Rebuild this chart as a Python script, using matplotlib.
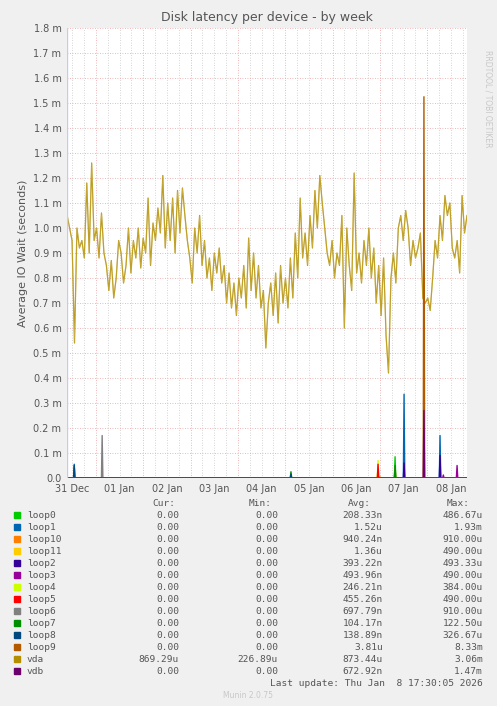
import numpy as np
import matplotlib
matplotlib.use("Agg")
import matplotlib.pyplot as plt

# ---- data (time in days since 31 Dec 00:00, values in seconds) ----
vda_vals_ms = [1.05,1.0,0.95,0.54,1.0,0.92,0.95,0.88,1.18,0.9,1.26,0.95,1.0,0.88,1.06,0.9,0.85,0.75,0.87,0.72,0.8,0.95,0.9,0.78,0.85,1.0,0.82,0.95,0.88,1.0,0.84,0.96,0.9,1.12,0.85,1.02,0.95,1.08,0.98,1.21,0.92,1.1,0.95,1.12,0.9,1.15,0.98,1.16,1.05,0.95,0.88,0.78,1.0,0.9,1.05,0.85,0.95,0.8,0.88,0.75,0.9,0.82,0.92,0.78,0.85,0.7,0.82,0.68,0.78,0.65,0.8,0.72,0.85,0.68,0.96,0.75,0.9,0.72,0.85,0.68,0.75,0.52,0.7,0.78,0.65,0.82,0.62,0.85,0.7,0.8,0.68,0.88,0.72,0.98,0.8,1.12,0.88,0.98,0.85,1.05,0.92,1.15,1.0,1.21,1.1,1.0,0.9,0.85,0.95,0.8,0.9,0.85,1.05,0.6,1.0,0.85,0.75,1.22,0.82,0.9,0.78,0.95,0.85,1.0,0.8,0.92,0.7,0.85,0.65,0.88,0.57,0.42,0.8,0.9,0.78,1.0,1.05,0.95,1.07,1.0,0.85,0.95,0.88,0.92,0.98,0.72,0.7,0.72,0.67,0.8,0.95,0.88,1.05,0.95,1.13,1.05,1.1,0.92,0.88,0.95,0.82,1.13,0.98,1.05]
vda_t = np.linspace(0.39, 8.84, len(vda_vals_ms))
vda_vals = np.array(vda_vals_ms) * 1e-3

names = ["loop0","loop1","loop10","loop11","loop2","loop3","loop4","loop5","loop6","loop7","loop8","loop9","vda","vdb"]
colors = ["#00CC00","#0066B3","#FF8000","#FFCC00","#330099","#990099","#CCFF00","#FF0000","#808080","#008F00","#00487D","#B35A00","#B38F00","#6B006B"]
cur = ["0.00"]*12 + ["869.29u","0.00"]
mins = ["0.00"]*12 + ["226.89u","0.00"]
avgs = ["208.33n","1.52u","940.24n","1.36u","393.22n","493.96n","246.21n","455.26n","697.79n","104.17n","138.89n","3.81u","873.44u","672.92n"]
maxs = ["486.67u","1.93m","910.00u","490.00u","493.33u","490.00u","384.00u","490.00u","910.00u","122.50u","326.67u","8.33m","3.06m","1.47m"]

spikes = {
    "loop0": [(7.32, 0.085e-3)],
    "loop1": [(0.54, 0.055e-3), (7.51, 0.335e-3), (8.27, 0.17e-3)],
    "loop10": [(7.32, 0.04e-3), (7.0, 0.005e-3)],
    "loop11": [(6.96, 0.03e-3)],
    "loop2": [(7.51, 0.06e-3), (8.27, 0.09e-3)],
    "loop3": [(8.63, 0.05e-3), (8.34, 0.012e-3)],
    "loop4": [(6.96, 0.07e-3)],
    "loop5": [(6.96, 0.055e-3)],
    "loop6": [(1.13, 0.17e-3)],
    "loop7": [(5.12, 0.025e-3), (7.32, 0.05e-3)],
    "loop8": [(0.54, 0.05e-3), (5.12, 0.015e-3)],
    "loop9": [(7.93, 1.525e-3)],
    "vdb": [(7.93, 0.27e-3)],
}
day_labels = ["31 Dec","01 Jan","02 Jan","03 Jan","04 Jan","05 Jan","06 Jan","07 Jan","08 Jan"]
y_ticks = [i * 0.1e-3 for i in range(19)]
y_labels = ["0.0"] + [f"{i/10:.1f} m" for i in range(1, 19)]

fig = plt.figure(figsize=(4.97, 7.06), dpi=100, facecolor="#f0f0f0")
ax = fig.add_axes([67/497, 1-478/706, 400/497, 450/706])
ax.set_facecolor("white")
x0, x1 = 0.387, 8.84
ax.set_xlim(x0, x1)
ax.set_ylim(0, 1.8e-3)

for d in np.arange(0, 9.01, 0.25):
    if x0 < d < x1:
        major = abs(d - round(d)) < 1e-6
        ax.axvline(d, color="#e8a0a0" if major else "#c8c8c8", lw=0.6, ls=(0, (1, 2)), zorder=0)
for yv in y_ticks[1:]:
    ax.axhline(yv, color="#e8a0a0", lw=0.6, ls=(0, (1, 2)), zorder=0)

ax.plot(vda_t, vda_vals, color="#B38F00", lw=0.9, zorder=3)
ax.plot(vda_t, vda_vals, color="#e0cf90", lw=0.4, zorder=3, alpha=0.5)
for n, c in zip(names, colors):
    if n == "vda":
        continue
    pts = spikes.get(n, [])
    ts, vs = [x0], [0.0]
    for t, v in sorted(pts):
        ts += [t - 0.015, t, t + 0.015]
        vs += [0.0, v, 0.0]
    ts.append(x1); vs.append(0.0)
    ax.plot(ts, vs, color=c, lw=1.0, zorder=4)
ax.axhline(0, color="#c080c0", lw=1.0, zorder=5)

ax.set_xticks([i + 0.5 for i in range(9)])
ax.set_xticklabels(day_labels)
ax.set_yticks(y_ticks)
ax.set_yticklabels(y_labels)
ax.tick_params(length=0, labelsize=7, colors="#555555", pad=4)
for s in ax.spines.values():
    s.set_visible(False)
ax.axvline(x0, color="#c8c8f0", lw=1, zorder=6)
ax.set_ylabel("Average IO Wait (seconds)", fontsize=8, color="#555555")
ax.set_title("Disk latency per device - by week", fontsize=9, color="#555555", pad=5)
fig.text(488/497, 1-50/706, "RRDTOOL / TOBI OETIKER", rotation=270, fontsize=5.5,
         color="#c8c8c8", ha="center", va="top")

mono = "DejaVu Sans Mono"
fs = 6.8
def ty(py): return 1 - py / 706
for xr, h in [(175, "Cur:"), (272, "Min:"), (371, "Avg:"), (470, "Max:")]:
    fig.text(xr/497, ty(503), h, family=mono, fontsize=fs, ha="right", va="center", color="#555555")
for i, n in enumerate(names):
    y = 515 + i * 12
    fig.patches.append(plt.Rectangle((14/497, ty(y + 3)), 6/497, 6/706, color=colors[i], transform=fig.transFigure))
    fig.text(27/497, ty(y), n, family=mono, fontsize=fs, va="center", color="#555555")
    fig.text(179/497, ty(y), cur[i], family=mono, fontsize=fs, ha="right", va="center", color="#555555")
    fig.text(278/497, ty(y), mins[i], family=mono, fontsize=fs, ha="right", va="center", color="#555555")
    fig.text(383/497, ty(y), avgs[i], family=mono, fontsize=fs, ha="right", va="center", color="#555555")
    fig.text(483/497, ty(y), maxs[i], family=mono, fontsize=fs, ha="right", va="center", color="#555555")
fig.text(483/497, ty(683), "Last update: Thu Jan  8 17:30:05 2026", family=mono, fontsize=fs,
         ha="right", va="center", color="#555555")
fig.text(248/497, ty(695), "Munin 2.0.75", fontsize=5.5, ha="center", va="center", color="#c8c8c8")

fig.savefig("out.png", dpi=100, facecolor=fig.get_facecolor())
